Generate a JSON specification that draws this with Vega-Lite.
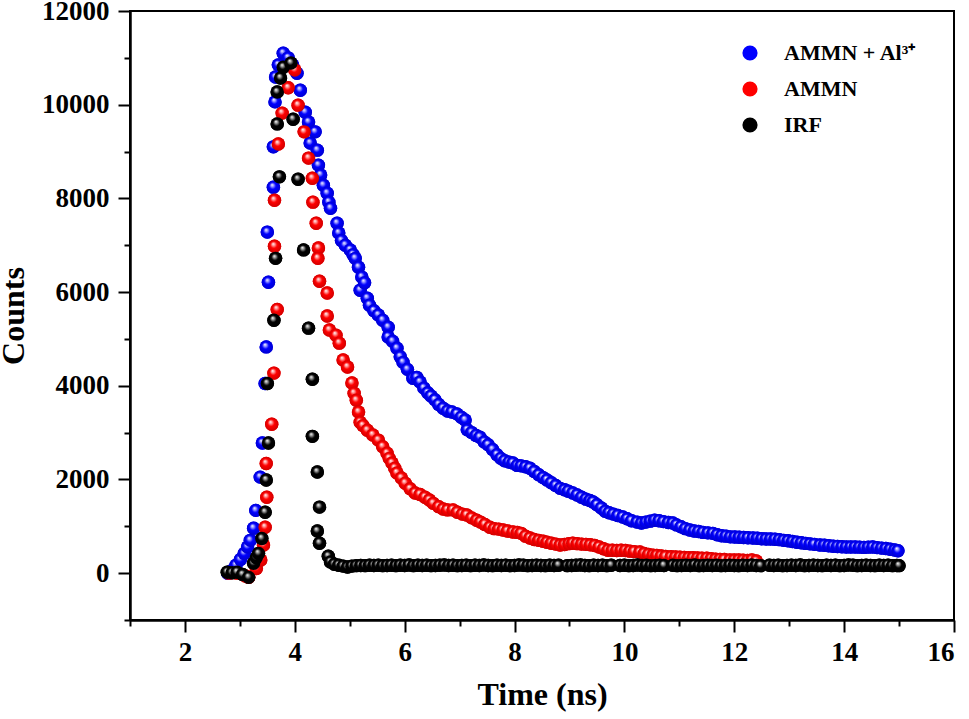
{
  "$schema": "https://vega.github.io/schema/vega-lite/v6.json",
  "description": "Fluorescence decay of AMMN with and without Al3+, and the instrument response",
  "width": 824,
  "height": 609,
  "autosize": {"type": "none"},
  "padding": {"left": 130, "top": 11, "right": 15, "bottom": 99},
  "config": {
    "view": {"stroke": "#000000", "strokeWidth": 2},
    "axis": {
      "grid": false,
      "domainColor": "#000000",
      "domainWidth": 2.5,
      "tickColor": "#000000",
      "tickWidth": 2,
      "labelFont": "Liberation Serif",
      "labelFontWeight": "bold",
      "labelFontSize": 27,
      "labelColor": "#000000",
      "titleFont": "Liberation Serif",
      "titleFontWeight": "bold",
      "titleFontSize": 32,
      "titleColor": "#000000"
    }
  },
  "data": {
    "values": [
      {"sample": "AMMN + Al³⁺", "time": 2.78, "counts": 0},
      {"sample": "AMMN + Al³⁺", "time": 2.86, "counts": 60},
      {"sample": "AMMN + Al³⁺", "time": 2.93, "counts": 170},
      {"sample": "AMMN + Al³⁺", "time": 3.01, "counts": 290},
      {"sample": "AMMN + Al³⁺", "time": 3.08, "counts": 420},
      {"sample": "AMMN + Al³⁺", "time": 3.14, "counts": 560},
      {"sample": "AMMN + Al³⁺", "time": 3.19, "counts": 700},
      {"sample": "AMMN + Al³⁺", "time": 3.25, "counts": 960},
      {"sample": "AMMN + Al³⁺", "time": 3.29, "counts": 1340},
      {"sample": "AMMN + Al³⁺", "time": 3.37, "counts": 2050},
      {"sample": "AMMN + Al³⁺", "time": 3.41, "counts": 2780},
      {"sample": "AMMN + Al³⁺", "time": 3.46, "counts": 4050},
      {"sample": "AMMN + Al³⁺", "time": 3.48, "counts": 4830},
      {"sample": "AMMN + Al³⁺", "time": 3.52, "counts": 6210},
      {"sample": "AMMN + Al³⁺", "time": 3.50, "counts": 7280},
      {"sample": "AMMN + Al³⁺", "time": 3.61, "counts": 8240},
      {"sample": "AMMN + Al³⁺", "time": 3.61, "counts": 9100},
      {"sample": "AMMN + Al³⁺", "time": 3.64, "counts": 10060},
      {"sample": "AMMN + Al³⁺", "time": 3.65, "counts": 10590},
      {"sample": "AMMN + Al³⁺", "time": 3.70, "counts": 10850},
      {"sample": "AMMN + Al³⁺", "time": 3.79, "counts": 11100},
      {"sample": "AMMN + Al³⁺", "time": 3.88, "counts": 11000},
      {"sample": "AMMN + Al³⁺", "time": 3.96, "counts": 10850},
      {"sample": "AMMN + Al³⁺", "time": 4.04, "counts": 10670},
      {"sample": "AMMN + Al³⁺", "time": 4.10, "counts": 10310},
      {"sample": "AMMN + Al³⁺", "time": 4.19, "counts": 9840},
      {"sample": "AMMN + Al³⁺", "time": 4.25, "counts": 9630},
      {"sample": "AMMN + Al³⁺", "time": 4.28, "counts": 9180},
      {"sample": "AMMN + Al³⁺", "time": 4.37, "counts": 9420},
      {"sample": "AMMN + Al³⁺", "time": 4.41, "counts": 9030},
      {"sample": "AMMN + Al³⁺", "time": 4.43, "counts": 8710},
      {"sample": "AMMN + Al³⁺", "time": 4.47, "counts": 8500},
      {"sample": "AMMN + Al³⁺", "time": 4.52, "counts": 8280},
      {"sample": "AMMN + Al³⁺", "time": 4.59, "counts": 8110},
      {"sample": "AMMN + Al³⁺", "time": 4.62, "counts": 7920},
      {"sample": "AMMN + Al³⁺", "time": 4.65, "counts": 7790},
      {"sample": "AMMN + Al³⁺", "time": 4.77, "counts": 7470},
      {"sample": "AMMN + Al³⁺", "time": 4.80, "counts": 7260},
      {"sample": "AMMN + Al³⁺", "time": 4.85, "counts": 7100},
      {"sample": "AMMN + Al³⁺", "time": 4.92, "counts": 7000},
      {"sample": "AMMN + Al³⁺", "time": 5.01, "counts": 6900},
      {"sample": "AMMN + Al³⁺", "time": 5.06, "counts": 6800},
      {"sample": "AMMN + Al³⁺", "time": 5.10, "counts": 6720},
      {"sample": "AMMN + Al³⁺", "time": 5.16, "counts": 6530},
      {"sample": "AMMN + Al³⁺", "time": 5.22, "counts": 6320},
      {"sample": "AMMN + Al³⁺", "time": 5.19, "counts": 6040},
      {"sample": "AMMN + Al³⁺", "time": 5.27, "counts": 6200},
      {"sample": "AMMN + Al³⁺", "time": 5.32, "counts": 5870},
      {"sample": "AMMN + Al³⁺", "time": 5.36, "counts": 5720},
      {"sample": "AMMN + Al³⁺", "time": 5.44, "counts": 5600},
      {"sample": "AMMN + Al³⁺", "time": 5.52, "counts": 5510},
      {"sample": "AMMN + Al³⁺", "time": 5.60, "counts": 5400},
      {"sample": "AMMN + Al³⁺", "time": 5.70, "counts": 5250},
      {"sample": "AMMN + Al³⁺", "time": 5.70, "counts": 5040},
      {"sample": "AMMN + Al³⁺", "time": 5.78, "counts": 4950},
      {"sample": "AMMN + Al³⁺", "time": 5.86, "counts": 4800},
      {"sample": "AMMN + Al³⁺", "time": 5.92, "counts": 4620},
      {"sample": "AMMN + Al³⁺", "time": 5.97, "counts": 4500},
      {"sample": "AMMN + Al³⁺", "time": 6.05, "counts": 4350},
      {"sample": "AMMN + Al³⁺", "time": 6.15, "counts": 4160},
      {"sample": "AMMN + Al³⁺", "time": 6.22, "counts": 4180},
      {"sample": "AMMN + Al³⁺", "time": 6.28, "counts": 4080},
      {"sample": "AMMN + Al³⁺", "time": 6.35, "counts": 3950},
      {"sample": "AMMN + Al³⁺", "time": 6.42, "counts": 3850},
      {"sample": "AMMN + Al³⁺", "time": 6.48, "counts": 3780},
      {"sample": "AMMN + Al³⁺", "time": 6.55, "counts": 3700},
      {"sample": "AMMN + Al³⁺", "time": 6.62, "counts": 3600},
      {"sample": "AMMN + Al³⁺", "time": 6.70, "counts": 3520},
      {"sample": "AMMN + Al³⁺", "time": 6.78, "counts": 3460},
      {"sample": "AMMN + Al³⁺", "time": 6.86, "counts": 3440},
      {"sample": "AMMN + Al³⁺", "time": 6.95, "counts": 3400},
      {"sample": "AMMN + Al³⁺", "time": 7.03, "counts": 3330},
      {"sample": "AMMN + Al³⁺", "time": 7.10, "counts": 3270},
      {"sample": "AMMN + Al³⁺", "time": 7.14, "counts": 3060},
      {"sample": "AMMN + Al³⁺", "time": 7.22, "counts": 3000},
      {"sample": "AMMN + Al³⁺", "time": 7.30, "counts": 2940},
      {"sample": "AMMN + Al³⁺", "time": 7.37, "counts": 2900},
      {"sample": "AMMN + Al³⁺", "time": 7.45, "counts": 2800},
      {"sample": "AMMN + Al³⁺", "time": 7.52, "counts": 2740},
      {"sample": "AMMN + Al³⁺", "time": 7.60, "counts": 2640},
      {"sample": "AMMN + Al³⁺", "time": 7.68, "counts": 2530},
      {"sample": "AMMN + Al³⁺", "time": 7.75, "counts": 2450},
      {"sample": "AMMN + Al³⁺", "time": 7.82, "counts": 2400},
      {"sample": "AMMN + Al³⁺", "time": 7.90, "counts": 2370},
      {"sample": "AMMN + Al³⁺", "time": 7.97, "counts": 2350},
      {"sample": "AMMN + Al³⁺", "time": 8.05, "counts": 2300},
      {"sample": "AMMN + Al³⁺", "time": 8.12, "counts": 2290},
      {"sample": "AMMN + Al³⁺", "time": 8.20, "counts": 2270},
      {"sample": "AMMN + Al³⁺", "time": 8.28, "counts": 2240},
      {"sample": "AMMN + Al³⁺", "time": 8.36, "counts": 2170},
      {"sample": "AMMN + Al³⁺", "time": 8.44, "counts": 2100},
      {"sample": "AMMN + Al³⁺", "time": 8.52, "counts": 2040},
      {"sample": "AMMN + Al³⁺", "time": 8.59, "counts": 1990},
      {"sample": "AMMN + Al³⁺", "time": 8.67, "counts": 1930},
      {"sample": "AMMN + Al³⁺", "time": 8.75, "counts": 1870},
      {"sample": "AMMN + Al³⁺", "time": 8.83, "counts": 1810},
      {"sample": "AMMN + Al³⁺", "time": 8.91, "counts": 1780},
      {"sample": "AMMN + Al³⁺", "time": 8.98, "counts": 1750},
      {"sample": "AMMN + Al³⁺", "time": 9.06, "counts": 1710},
      {"sample": "AMMN + Al³⁺", "time": 9.14, "counts": 1670},
      {"sample": "AMMN + Al³⁺", "time": 9.22, "counts": 1620},
      {"sample": "AMMN + Al³⁺", "time": 9.30, "counts": 1580},
      {"sample": "AMMN + Al³⁺", "time": 9.37, "counts": 1550},
      {"sample": "AMMN + Al³⁺", "time": 9.43, "counts": 1520},
      {"sample": "AMMN + Al³⁺", "time": 9.50, "counts": 1460},
      {"sample": "AMMN + Al³⁺", "time": 9.58, "counts": 1390},
      {"sample": "AMMN + Al³⁺", "time": 9.65, "counts": 1320},
      {"sample": "AMMN + Al³⁺", "time": 9.72, "counts": 1290},
      {"sample": "AMMN + Al³⁺", "time": 9.80, "counts": 1260},
      {"sample": "AMMN + Al³⁺", "time": 9.88, "counts": 1230},
      {"sample": "AMMN + Al³⁺", "time": 9.97, "counts": 1200},
      {"sample": "AMMN + Al³⁺", "time": 10.05, "counts": 1160},
      {"sample": "AMMN + Al³⁺", "time": 10.13, "counts": 1120},
      {"sample": "AMMN + Al³⁺", "time": 10.23, "counts": 1090},
      {"sample": "AMMN + Al³⁺", "time": 10.31, "counts": 1070},
      {"sample": "AMMN + Al³⁺", "time": 10.39, "counts": 1090},
      {"sample": "AMMN + Al³⁺", "time": 10.47, "counts": 1110},
      {"sample": "AMMN + Al³⁺", "time": 10.55, "counts": 1130},
      {"sample": "AMMN + Al³⁺", "time": 10.63, "counts": 1120},
      {"sample": "AMMN + Al³⁺", "time": 10.71, "counts": 1100},
      {"sample": "AMMN + Al³⁺", "time": 10.80, "counts": 1080},
      {"sample": "AMMN + Al³⁺", "time": 10.88, "counts": 1070},
      {"sample": "AMMN + Al³⁺", "time": 10.95, "counts": 1030},
      {"sample": "AMMN + Al³⁺", "time": 11.03, "counts": 990},
      {"sample": "AMMN + Al³⁺", "time": 11.11, "counts": 950},
      {"sample": "AMMN + Al³⁺", "time": 11.19, "counts": 920},
      {"sample": "AMMN + Al³⁺", "time": 11.27, "counts": 900},
      {"sample": "AMMN + Al³⁺", "time": 11.35, "counts": 890},
      {"sample": "AMMN + Al³⁺", "time": 11.43, "counts": 870},
      {"sample": "AMMN + Al³⁺", "time": 11.52, "counts": 860},
      {"sample": "AMMN + Al³⁺", "time": 11.61, "counts": 850},
      {"sample": "AMMN + Al³⁺", "time": 11.69, "counts": 820},
      {"sample": "AMMN + Al³⁺", "time": 11.77, "counts": 800},
      {"sample": "AMMN + Al³⁺", "time": 11.85, "counts": 790},
      {"sample": "AMMN + Al³⁺", "time": 11.93, "counts": 775},
      {"sample": "AMMN + Al³⁺", "time": 12.01, "counts": 770},
      {"sample": "AMMN + Al³⁺", "time": 12.09, "counts": 765},
      {"sample": "AMMN + Al³⁺", "time": 12.17, "counts": 760},
      {"sample": "AMMN + Al³⁺", "time": 12.25, "counts": 755},
      {"sample": "AMMN + Al³⁺", "time": 12.34, "counts": 750},
      {"sample": "AMMN + Al³⁺", "time": 12.42, "counts": 745},
      {"sample": "AMMN + Al³⁺", "time": 12.50, "counts": 735},
      {"sample": "AMMN + Al³⁺", "time": 12.58, "counts": 730},
      {"sample": "AMMN + Al³⁺", "time": 12.66, "counts": 730},
      {"sample": "AMMN + Al³⁺", "time": 12.74, "counts": 725},
      {"sample": "AMMN + Al³⁺", "time": 12.82, "counts": 715},
      {"sample": "AMMN + Al³⁺", "time": 12.90, "counts": 700},
      {"sample": "AMMN + Al³⁺", "time": 12.98, "counts": 690},
      {"sample": "AMMN + Al³⁺", "time": 13.06, "counts": 675},
      {"sample": "AMMN + Al³⁺", "time": 13.14, "counts": 660},
      {"sample": "AMMN + Al³⁺", "time": 13.22, "counts": 650},
      {"sample": "AMMN + Al³⁺", "time": 13.30, "counts": 635},
      {"sample": "AMMN + Al³⁺", "time": 13.38, "counts": 625},
      {"sample": "AMMN + Al³⁺", "time": 13.46, "counts": 615},
      {"sample": "AMMN + Al³⁺", "time": 13.56, "counts": 600},
      {"sample": "AMMN + Al³⁺", "time": 13.64, "counts": 595},
      {"sample": "AMMN + Al³⁺", "time": 13.72, "counts": 585},
      {"sample": "AMMN + Al³⁺", "time": 13.80, "counts": 575},
      {"sample": "AMMN + Al³⁺", "time": 13.88, "counts": 570},
      {"sample": "AMMN + Al³⁺", "time": 13.96, "counts": 565},
      {"sample": "AMMN + Al³⁺", "time": 14.04, "counts": 560},
      {"sample": "AMMN + Al³⁺", "time": 14.12, "counts": 560},
      {"sample": "AMMN + Al³⁺", "time": 14.20, "counts": 560},
      {"sample": "AMMN + Al³⁺", "time": 14.28, "counts": 555},
      {"sample": "AMMN + Al³⁺", "time": 14.36, "counts": 550},
      {"sample": "AMMN + Al³⁺", "time": 14.44, "counts": 555},
      {"sample": "AMMN + Al³⁺", "time": 14.52, "counts": 560},
      {"sample": "AMMN + Al³⁺", "time": 14.60, "counts": 545},
      {"sample": "AMMN + Al³⁺", "time": 14.68, "counts": 535},
      {"sample": "AMMN + Al³⁺", "time": 14.76, "counts": 525},
      {"sample": "AMMN + Al³⁺", "time": 14.84, "counts": 510},
      {"sample": "AMMN + Al³⁺", "time": 14.92, "counts": 495},
      {"sample": "AMMN + Al³⁺", "time": 14.98, "counts": 480},

      {"sample": "AMMN", "time": 2.80, "counts": 0},
      {"sample": "AMMN", "time": 2.95, "counts": 0},
      {"sample": "AMMN", "time": 3.10, "counts": -60},
      {"sample": "AMMN", "time": 3.16, "counts": -85},
      {"sample": "AMMN", "time": 3.30, "counts": 100},
      {"sample": "AMMN", "time": 3.38, "counts": 280},
      {"sample": "AMMN", "time": 3.43, "counts": 600},
      {"sample": "AMMN", "time": 3.46, "counts": 980},
      {"sample": "AMMN", "time": 3.49, "counts": 1620},
      {"sample": "AMMN", "time": 3.48, "counts": 2340},
      {"sample": "AMMN", "time": 3.58, "counts": 3180},
      {"sample": "AMMN", "time": 3.62, "counts": 4270},
      {"sample": "AMMN", "time": 3.68, "counts": 5630},
      {"sample": "AMMN", "time": 3.63, "counts": 6980},
      {"sample": "AMMN", "time": 3.63, "counts": 7960},
      {"sample": "AMMN", "time": 3.70, "counts": 9160},
      {"sample": "AMMN", "time": 3.77, "counts": 9820},
      {"sample": "AMMN", "time": 3.88, "counts": 10360},
      {"sample": "AMMN", "time": 4.00, "counts": 10740},
      {"sample": "AMMN", "time": 4.06, "counts": 9990},
      {"sample": "AMMN", "time": 4.17, "counts": 9420},
      {"sample": "AMMN", "time": 4.25, "counts": 8860},
      {"sample": "AMMN", "time": 4.32, "counts": 8430},
      {"sample": "AMMN", "time": 4.33, "counts": 7920},
      {"sample": "AMMN", "time": 4.39, "counts": 7470},
      {"sample": "AMMN", "time": 4.43, "counts": 6940},
      {"sample": "AMMN", "time": 4.42, "counts": 6720},
      {"sample": "AMMN", "time": 4.45, "counts": 6230},
      {"sample": "AMMN", "time": 4.59, "counts": 5980},
      {"sample": "AMMN", "time": 4.59, "counts": 5490},
      {"sample": "AMMN", "time": 4.63, "counts": 5190},
      {"sample": "AMMN", "time": 4.75, "counts": 5080},
      {"sample": "AMMN", "time": 4.81, "counts": 4910},
      {"sample": "AMMN", "time": 4.88, "counts": 4550},
      {"sample": "AMMN", "time": 4.96, "counts": 4400},
      {"sample": "AMMN", "time": 5.04, "counts": 4060},
      {"sample": "AMMN", "time": 5.08, "counts": 3840},
      {"sample": "AMMN", "time": 5.12, "counts": 3690},
      {"sample": "AMMN", "time": 5.16, "counts": 3440},
      {"sample": "AMMN", "time": 5.19, "counts": 3220},
      {"sample": "AMMN", "time": 5.24, "counts": 3150},
      {"sample": "AMMN", "time": 5.32, "counts": 3050},
      {"sample": "AMMN", "time": 5.42, "counts": 2950},
      {"sample": "AMMN", "time": 5.52, "counts": 2840},
      {"sample": "AMMN", "time": 5.60, "counts": 2700},
      {"sample": "AMMN", "time": 5.68, "counts": 2560},
      {"sample": "AMMN", "time": 5.72, "counts": 2450},
      {"sample": "AMMN", "time": 5.77, "counts": 2350},
      {"sample": "AMMN", "time": 5.82, "counts": 2240},
      {"sample": "AMMN", "time": 5.86, "counts": 2140},
      {"sample": "AMMN", "time": 5.94, "counts": 2030},
      {"sample": "AMMN", "time": 6.01, "counts": 1920},
      {"sample": "AMMN", "time": 6.10, "counts": 1800},
      {"sample": "AMMN", "time": 6.19, "counts": 1710},
      {"sample": "AMMN", "time": 6.28, "counts": 1680},
      {"sample": "AMMN", "time": 6.37, "counts": 1620},
      {"sample": "AMMN", "time": 6.45, "counts": 1560},
      {"sample": "AMMN", "time": 6.52, "counts": 1490},
      {"sample": "AMMN", "time": 6.62, "counts": 1420},
      {"sample": "AMMN", "time": 6.70, "counts": 1370},
      {"sample": "AMMN", "time": 6.78, "counts": 1350},
      {"sample": "AMMN", "time": 6.88, "counts": 1350},
      {"sample": "AMMN", "time": 6.96, "counts": 1300},
      {"sample": "AMMN", "time": 7.05, "counts": 1260},
      {"sample": "AMMN", "time": 7.13, "counts": 1240},
      {"sample": "AMMN", "time": 7.22, "counts": 1180},
      {"sample": "AMMN", "time": 7.31, "counts": 1130},
      {"sample": "AMMN", "time": 7.38, "counts": 1090},
      {"sample": "AMMN", "time": 7.46, "counts": 1040},
      {"sample": "AMMN", "time": 7.55, "counts": 980},
      {"sample": "AMMN", "time": 7.63, "counts": 950},
      {"sample": "AMMN", "time": 7.71, "counts": 940},
      {"sample": "AMMN", "time": 7.79, "counts": 920},
      {"sample": "AMMN", "time": 7.87, "counts": 900},
      {"sample": "AMMN", "time": 7.97, "counts": 880},
      {"sample": "AMMN", "time": 8.05, "counts": 870},
      {"sample": "AMMN", "time": 8.12, "counts": 850},
      {"sample": "AMMN", "time": 8.20, "counts": 790},
      {"sample": "AMMN", "time": 8.28, "counts": 750},
      {"sample": "AMMN", "time": 8.36, "counts": 720},
      {"sample": "AMMN", "time": 8.44, "counts": 700},
      {"sample": "AMMN", "time": 8.52, "counts": 680},
      {"sample": "AMMN", "time": 8.59, "counts": 660},
      {"sample": "AMMN", "time": 8.67, "counts": 640},
      {"sample": "AMMN", "time": 8.75, "counts": 620},
      {"sample": "AMMN", "time": 8.83, "counts": 600},
      {"sample": "AMMN", "time": 8.91, "counts": 610},
      {"sample": "AMMN", "time": 8.99, "counts": 630},
      {"sample": "AMMN", "time": 9.06, "counts": 640},
      {"sample": "AMMN", "time": 9.14, "counts": 630},
      {"sample": "AMMN", "time": 9.22, "counts": 620},
      {"sample": "AMMN", "time": 9.30, "counts": 615},
      {"sample": "AMMN", "time": 9.38, "counts": 605},
      {"sample": "AMMN", "time": 9.46, "counts": 590},
      {"sample": "AMMN", "time": 9.54, "counts": 560},
      {"sample": "AMMN", "time": 9.62, "counts": 520},
      {"sample": "AMMN", "time": 9.70, "counts": 490},
      {"sample": "AMMN", "time": 9.78, "counts": 490},
      {"sample": "AMMN", "time": 9.86, "counts": 485},
      {"sample": "AMMN", "time": 9.94, "counts": 490},
      {"sample": "AMMN", "time": 10.02, "counts": 485},
      {"sample": "AMMN", "time": 10.10, "counts": 470},
      {"sample": "AMMN", "time": 10.18, "counts": 460},
      {"sample": "AMMN", "time": 10.28, "counts": 450},
      {"sample": "AMMN", "time": 10.36, "counts": 420},
      {"sample": "AMMN", "time": 10.44, "counts": 400},
      {"sample": "AMMN", "time": 10.52, "counts": 385},
      {"sample": "AMMN", "time": 10.59, "counts": 380},
      {"sample": "AMMN", "time": 10.67, "counts": 365},
      {"sample": "AMMN", "time": 10.75, "counts": 355},
      {"sample": "AMMN", "time": 10.85, "counts": 350},
      {"sample": "AMMN", "time": 10.93, "counts": 345},
      {"sample": "AMMN", "time": 11.01, "counts": 340},
      {"sample": "AMMN", "time": 11.09, "counts": 335},
      {"sample": "AMMN", "time": 11.17, "counts": 330},
      {"sample": "AMMN", "time": 11.25, "counts": 330},
      {"sample": "AMMN", "time": 11.33, "counts": 325},
      {"sample": "AMMN", "time": 11.41, "counts": 320},
      {"sample": "AMMN", "time": 11.50, "counts": 320},
      {"sample": "AMMN", "time": 11.58, "counts": 310},
      {"sample": "AMMN", "time": 11.66, "counts": 300},
      {"sample": "AMMN", "time": 11.74, "counts": 295},
      {"sample": "AMMN", "time": 11.82, "counts": 290},
      {"sample": "AMMN", "time": 11.92, "counts": 280},
      {"sample": "AMMN", "time": 12.00, "counts": 280},
      {"sample": "AMMN", "time": 12.08, "counts": 280},
      {"sample": "AMMN", "time": 12.16, "counts": 275},
      {"sample": "AMMN", "time": 12.24, "counts": 270},
      {"sample": "AMMN", "time": 12.32, "counts": 280},
      {"sample": "AMMN", "time": 12.40, "counts": 260},

      {"sample": "IRF", "time": 2.77, "counts": 20},
      {"sample": "IRF", "time": 2.86, "counts": 10},
      {"sample": "IRF", "time": 2.95, "counts": 20},
      {"sample": "IRF", "time": 3.05, "counts": -30},
      {"sample": "IRF", "time": 3.16, "counts": -90},
      {"sample": "IRF", "time": 3.25, "counts": 210},
      {"sample": "IRF", "time": 3.30, "counts": 330},
      {"sample": "IRF", "time": 3.34, "counts": 420},
      {"sample": "IRF", "time": 3.40, "counts": 740},
      {"sample": "IRF", "time": 3.46, "counts": 1300},
      {"sample": "IRF", "time": 3.48, "counts": 1990},
      {"sample": "IRF", "time": 3.52, "counts": 2780},
      {"sample": "IRF", "time": 3.50, "counts": 4050},
      {"sample": "IRF", "time": 3.62, "counts": 5400},
      {"sample": "IRF", "time": 3.65, "counts": 6720},
      {"sample": "IRF", "time": 3.72, "counts": 8460},
      {"sample": "IRF", "time": 3.68, "counts": 9590},
      {"sample": "IRF", "time": 3.68, "counts": 10270},
      {"sample": "IRF", "time": 3.74, "counts": 10570},
      {"sample": "IRF", "time": 3.79, "counts": 10800},
      {"sample": "IRF", "time": 3.93, "counts": 10890},
      {"sample": "IRF", "time": 3.97, "counts": 9690},
      {"sample": "IRF", "time": 4.06, "counts": 8410},
      {"sample": "IRF", "time": 4.16, "counts": 6900},
      {"sample": "IRF", "time": 4.25, "counts": 5230},
      {"sample": "IRF", "time": 4.32, "counts": 4140},
      {"sample": "IRF", "time": 4.32, "counts": 2920},
      {"sample": "IRF", "time": 4.41, "counts": 2160},
      {"sample": "IRF", "time": 4.45, "counts": 1410},
      {"sample": "IRF", "time": 4.41, "counts": 900},
      {"sample": "IRF", "time": 4.45, "counts": 640},
      {"sample": "IRF", "time": 4.61, "counts": 360},
      {"sample": "IRF", "time": 4.65, "counts": 240},
      {"sample": "IRF", "time": 4.72, "counts": 190},
      {"sample": "IRF", "time": 4.80, "counts": 170},
      {"sample": "IRF", "time": 4.88, "counts": 150},
      {"sample": "IRF", "time": 4.96, "counts": 130},
      {"sample": "IRF", "time": 5.04, "counts": 150},
      {"sample": "IRF", "time": 5.12, "counts": 160},
      {"sample": "IRF", "time": 5.20, "counts": 165},
      {"sample": "IRF", "time": 5.28, "counts": 160},
      {"sample": "IRF", "time": 5.36, "counts": 170},
      {"sample": "IRF", "time": 5.44, "counts": 165},
      {"sample": "IRF", "time": 5.52, "counts": 170},
      {"sample": "IRF", "time": 5.60, "counts": 160},
      {"sample": "IRF", "time": 5.68, "counts": 165},
      {"sample": "IRF", "time": 5.76, "counts": 170},
      {"sample": "IRF", "time": 5.84, "counts": 160},
      {"sample": "IRF", "time": 5.92, "counts": 170},
      {"sample": "IRF", "time": 6.00, "counts": 165},
      {"sample": "IRF", "time": 6.08, "counts": 175},
      {"sample": "IRF", "time": 6.16, "counts": 160},
      {"sample": "IRF", "time": 6.24, "counts": 170},
      {"sample": "IRF", "time": 6.32, "counts": 165},
      {"sample": "IRF", "time": 6.40, "counts": 170},
      {"sample": "IRF", "time": 6.48, "counts": 160},
      {"sample": "IRF", "time": 6.56, "counts": 165},
      {"sample": "IRF", "time": 6.64, "counts": 170},
      {"sample": "IRF", "time": 6.72, "counts": 175},
      {"sample": "IRF", "time": 6.80, "counts": 165},
      {"sample": "IRF", "time": 6.88, "counts": 170},
      {"sample": "IRF", "time": 6.96, "counts": 160},
      {"sample": "IRF", "time": 7.04, "counts": 165},
      {"sample": "IRF", "time": 7.12, "counts": 170},
      {"sample": "IRF", "time": 7.20, "counts": 160},
      {"sample": "IRF", "time": 7.28, "counts": 170},
      {"sample": "IRF", "time": 7.36, "counts": 165},
      {"sample": "IRF", "time": 7.44, "counts": 175},
      {"sample": "IRF", "time": 7.52, "counts": 165},
      {"sample": "IRF", "time": 7.60, "counts": 160},
      {"sample": "IRF", "time": 7.68, "counts": 170},
      {"sample": "IRF", "time": 7.76, "counts": 165},
      {"sample": "IRF", "time": 7.84, "counts": 170},
      {"sample": "IRF", "time": 7.92, "counts": 160},
      {"sample": "IRF", "time": 8.00, "counts": 165},
      {"sample": "IRF", "time": 8.08, "counts": 175},
      {"sample": "IRF", "time": 8.16, "counts": 170},
      {"sample": "IRF", "time": 8.24, "counts": 160},
      {"sample": "IRF", "time": 8.32, "counts": 165},
      {"sample": "IRF", "time": 8.40, "counts": 170},
      {"sample": "IRF", "time": 8.48, "counts": 165},
      {"sample": "IRF", "time": 8.56, "counts": 160},
      {"sample": "IRF", "time": 8.64, "counts": 170},
      {"sample": "IRF", "time": 8.72, "counts": 165},
      {"sample": "IRF", "time": 8.80, "counts": 170},
      {"sample": "IRF", "time": 8.96, "counts": 160},
      {"sample": "IRF", "time": 9.04, "counts": 165},
      {"sample": "IRF", "time": 9.12, "counts": 170},
      {"sample": "IRF", "time": 9.20, "counts": 175},
      {"sample": "IRF", "time": 9.28, "counts": 165},
      {"sample": "IRF", "time": 9.36, "counts": 160},
      {"sample": "IRF", "time": 9.44, "counts": 170},
      {"sample": "IRF", "time": 9.52, "counts": 165},
      {"sample": "IRF", "time": 9.60, "counts": 170},
      {"sample": "IRF", "time": 9.68, "counts": 160},
      {"sample": "IRF", "time": 9.76, "counts": 170},
      {"sample": "IRF", "time": 9.92, "counts": 165},
      {"sample": "IRF", "time": 10.00, "counts": 170},
      {"sample": "IRF", "time": 10.08, "counts": 160},
      {"sample": "IRF", "time": 10.16, "counts": 165},
      {"sample": "IRF", "time": 10.24, "counts": 175},
      {"sample": "IRF", "time": 10.32, "counts": 165},
      {"sample": "IRF", "time": 10.40, "counts": 170},
      {"sample": "IRF", "time": 10.48, "counts": 160},
      {"sample": "IRF", "time": 10.56, "counts": 165},
      {"sample": "IRF", "time": 10.64, "counts": 170},
      {"sample": "IRF", "time": 10.72, "counts": 165},
      {"sample": "IRF", "time": 10.88, "counts": 170},
      {"sample": "IRF", "time": 10.96, "counts": 160},
      {"sample": "IRF", "time": 11.04, "counts": 165},
      {"sample": "IRF", "time": 11.12, "counts": 170},
      {"sample": "IRF", "time": 11.20, "counts": 165},
      {"sample": "IRF", "time": 11.28, "counts": 175},
      {"sample": "IRF", "time": 11.36, "counts": 160},
      {"sample": "IRF", "time": 11.44, "counts": 165},
      {"sample": "IRF", "time": 11.52, "counts": 170},
      {"sample": "IRF", "time": 11.60, "counts": 165},
      {"sample": "IRF", "time": 11.68, "counts": 170},
      {"sample": "IRF", "time": 11.76, "counts": 160},
      {"sample": "IRF", "time": 11.84, "counts": 165},
      {"sample": "IRF", "time": 11.92, "counts": 170},
      {"sample": "IRF", "time": 12.00, "counts": 165},
      {"sample": "IRF", "time": 12.08, "counts": 160},
      {"sample": "IRF", "time": 12.16, "counts": 170},
      {"sample": "IRF", "time": 12.24, "counts": 165},
      {"sample": "IRF", "time": 12.32, "counts": 175},
      {"sample": "IRF", "time": 12.40, "counts": 165},
      {"sample": "IRF", "time": 12.48, "counts": 160},
      {"sample": "IRF", "time": 12.64, "counts": 170},
      {"sample": "IRF", "time": 12.72, "counts": 165},
      {"sample": "IRF", "time": 12.80, "counts": 170},
      {"sample": "IRF", "time": 12.88, "counts": 160},
      {"sample": "IRF", "time": 12.96, "counts": 165},
      {"sample": "IRF", "time": 13.04, "counts": 170},
      {"sample": "IRF", "time": 13.12, "counts": 165},
      {"sample": "IRF", "time": 13.20, "counts": 175},
      {"sample": "IRF", "time": 13.28, "counts": 160},
      {"sample": "IRF", "time": 13.36, "counts": 165},
      {"sample": "IRF", "time": 13.44, "counts": 170},
      {"sample": "IRF", "time": 13.52, "counts": 165},
      {"sample": "IRF", "time": 13.60, "counts": 160},
      {"sample": "IRF", "time": 13.68, "counts": 170},
      {"sample": "IRF", "time": 13.76, "counts": 165},
      {"sample": "IRF", "time": 13.84, "counts": 170},
      {"sample": "IRF", "time": 13.92, "counts": 160},
      {"sample": "IRF", "time": 14.00, "counts": 165},
      {"sample": "IRF", "time": 14.08, "counts": 175},
      {"sample": "IRF", "time": 14.16, "counts": 170},
      {"sample": "IRF", "time": 14.24, "counts": 160},
      {"sample": "IRF", "time": 14.32, "counts": 165},
      {"sample": "IRF", "time": 14.40, "counts": 170},
      {"sample": "IRF", "time": 14.48, "counts": 165},
      {"sample": "IRF", "time": 14.56, "counts": 160},
      {"sample": "IRF", "time": 14.64, "counts": 170},
      {"sample": "IRF", "time": 14.72, "counts": 165},
      {"sample": "IRF", "time": 14.80, "counts": 170},
      {"sample": "IRF", "time": 14.88, "counts": 160},
      {"sample": "IRF", "time": 14.96, "counts": 165},
      {"sample": "IRF", "time": 15.00, "counts": 160}
    ]
  },
  "encoding": {
    "x": {
      "field": "time",
      "type": "quantitative",
      "title": "Time (ns)",
      "scale": {"domain": [1, 16], "nice": false, "zero": false},
      "axis": {
        "values": [1, 2, 3, 4, 5, 6, 7, 8, 9, 10, 11, 12, 13, 14, 15, 16],
        "format": "d",
        "labelExpr": "datum.value % 2 === 0 ? datum.label : ''",
        "tickSize": {"condition": {"test": "datum.value % 2 === 0", "value": 12}, "value": 6},
        "labelPadding": 7,
        "titlePadding": 14
      }
    },
    "y": {
      "field": "counts",
      "type": "quantitative",
      "title": "Counts",
      "scale": {"domain": [-1000, 12000], "nice": false, "zero": false},
      "axis": {
        "values": [-1000, 0, 1000, 2000, 3000, 4000, 5000, 6000, 7000, 8000, 9000, 10000, 11000, 12000],
        "format": "d",
        "labelExpr": "datum.value >= 0 && datum.value % 2000 === 0 ? datum.label : ''",
        "tickSize": {"condition": {"test": "datum.value % 2000 === 0", "value": 12}, "value": 6},
        "labelPadding": 9,
        "titlePadding": 11
      }
    }
  },
  "layer": [
    {
      "mark": {"type": "point", "filled": true, "opacity": 1, "size": 180, "strokeWidth": 0},
      "encoding": {
        "color": {
          "field": "sample",
          "type": "nominal",
          "sort": null,
          "scale": {"domain": ["AMMN + Al³⁺", "AMMN", "IRF"], "range": ["#0000ff", "#ff0000", "#000000"]},
          "legend": {
            "title": null,
            "orient": "none",
            "legendX": 609,
            "legendY": 31,
            "symbolType": "circle",
            "symbolSize": 230,
            "symbolStrokeWidth": 0,
            "labelFont": "Liberation Serif",
            "labelFontSize": 22,
            "labelFontWeight": "bold",
            "labelColor": "#000000",
            "labelOffset": 23,
            "rowPadding": 14,
            "encode": {
              "symbols": {
                "enter": {
                  "fill": {"signal": "datum.value === 'IRF' ? {gradient: 'radial', x1: 0.4, y1: 0.32, r1: 0, x2: 0.5, y2: 0.5, r2: 0.5, stops: [{offset: 0, color: '#ffffff'}, {offset: 0.22, color: '#999999'}, {offset: 0.5, color: '#000000'}, {offset: 1, color: '#000000'}]} : datum.value === 'AMMN' ? {gradient: 'radial', x1: 0.4, y1: 0.32, r1: 0, x2: 0.5, y2: 0.5, r2: 0.5, stops: [{offset: 0, color: '#ffffff'}, {offset: 0.22, color: '#ff9a9a'}, {offset: 0.5, color: '#ff0000'}, {offset: 1, color: '#d00000'}]} : {gradient: 'radial', x1: 0.4, y1: 0.32, r1: 0, x2: 0.5, y2: 0.5, r2: 0.5, stops: [{offset: 0, color: '#ffffff'}, {offset: 0.22, color: '#9a9aff'}, {offset: 0.5, color: '#0000ff'}, {offset: 1, color: '#0000d0'}]}"}
                },
                "update": {
                  "fill": {"signal": "datum.value === 'IRF' ? {gradient: 'radial', x1: 0.4, y1: 0.32, r1: 0, x2: 0.5, y2: 0.5, r2: 0.5, stops: [{offset: 0, color: '#ffffff'}, {offset: 0.22, color: '#999999'}, {offset: 0.5, color: '#000000'}, {offset: 1, color: '#000000'}]} : datum.value === 'AMMN' ? {gradient: 'radial', x1: 0.4, y1: 0.32, r1: 0, x2: 0.5, y2: 0.5, r2: 0.5, stops: [{offset: 0, color: '#ffffff'}, {offset: 0.22, color: '#ff9a9a'}, {offset: 0.5, color: '#ff0000'}, {offset: 1, color: '#d00000'}]} : {gradient: 'radial', x1: 0.4, y1: 0.32, r1: 0, x2: 0.5, y2: 0.5, r2: 0.5, stops: [{offset: 0, color: '#ffffff'}, {offset: 0.22, color: '#9a9aff'}, {offset: 0.5, color: '#0000ff'}, {offset: 1, color: '#0000d0'}]}"}
                }
              }
            }
          }
        }
      }
    },
    {
      "transform": [{"filter": "datum.sample === 'AMMN + Al³⁺'"}],
      "mark": {
        "type": "point", "filled": true, "opacity": 1, "size": 180, "strokeWidth": 0,
        "fill": {"gradient": "radial", "x1": 0.4, "y1": 0.32, "r1": 0, "x2": 0.5, "y2": 0.5, "r2": 0.5,
          "stops": [{"offset": 0, "color": "#ffffff"}, {"offset": 0.22, "color": "#9a9aff"}, {"offset": 0.5, "color": "#0000ff"}, {"offset": 1, "color": "#0000d0"}]}
      }
    },
    {
      "transform": [{"filter": "datum.sample === 'AMMN'"}],
      "mark": {
        "type": "point", "filled": true, "opacity": 1, "size": 180, "strokeWidth": 0,
        "fill": {"gradient": "radial", "x1": 0.4, "y1": 0.32, "r1": 0, "x2": 0.5, "y2": 0.5, "r2": 0.5,
          "stops": [{"offset": 0, "color": "#ffffff"}, {"offset": 0.22, "color": "#ff9a9a"}, {"offset": 0.5, "color": "#ff0000"}, {"offset": 1, "color": "#d00000"}]}
      }
    },
    {
      "transform": [{"filter": "datum.sample === 'IRF'"}],
      "mark": {
        "type": "point", "filled": true, "opacity": 1, "size": 180, "strokeWidth": 0,
        "fill": {"gradient": "radial", "x1": 0.4, "y1": 0.32, "r1": 0, "x2": 0.5, "y2": 0.5, "r2": 0.5,
          "stops": [{"offset": 0, "color": "#ffffff"}, {"offset": 0.22, "color": "#999999"}, {"offset": 0.5, "color": "#000000"}, {"offset": 1, "color": "#000000"}]}
      }
    }
  ]
}
